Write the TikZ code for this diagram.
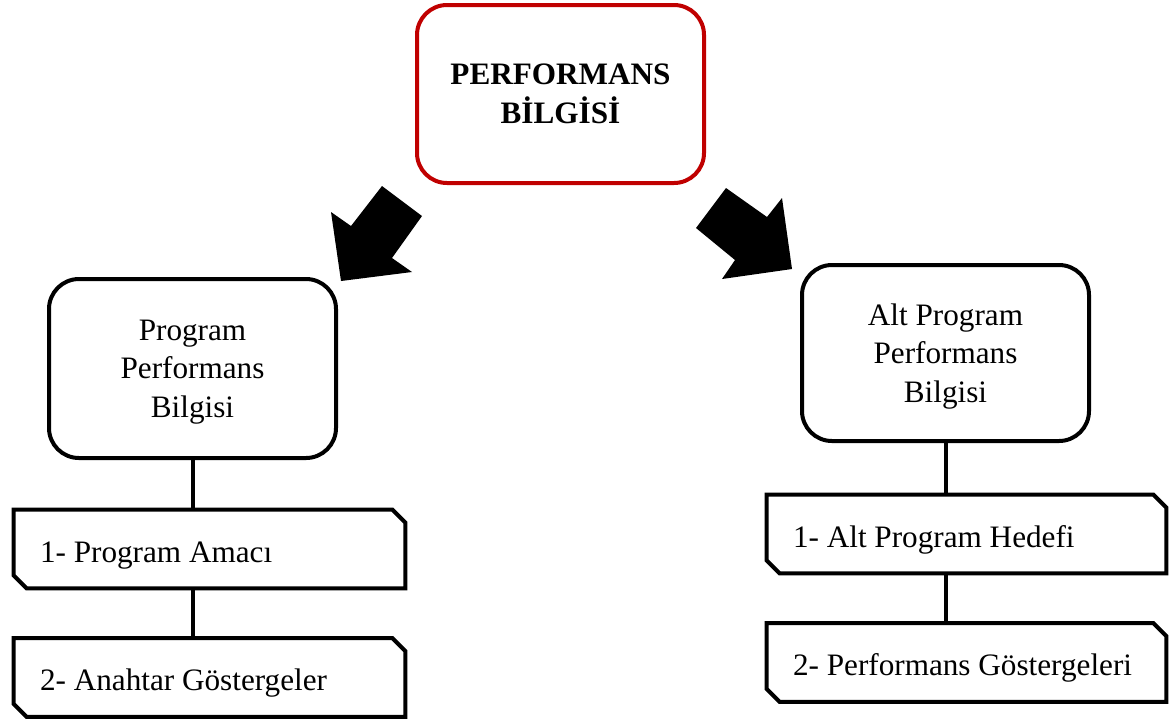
\documentclass[tikz,border=0pt]{standalone}
\usepackage{fontspec}
\setmainfont{Liberation Serif}
\usepackage{xcolor}
\usetikzlibrary{positioning}
\definecolor{boxred}{RGB}{192,0,0}

\begin{document}
\begin{tikzpicture}[x=0.5pt, y=-0.5pt,
        mainbox/.style={rectangle, rounded corners=15pt, draw=boxred, line width=2pt, minimum width=143.5pt, minimum height=89pt, align=center, font=\fontsize{15.6}{19.5}\selectfont\bfseries},
        subbox/.style={rectangle, rounded corners=15pt, draw=black, line width=2pt, minimum width=143.5pt, minimum height=89pt, align=center, font=\fontsize{15.6}{19.25}\selectfont},
        item/.style={rectangle, inner xsep=13pt, minimum height=39pt, text height=13pt, text depth=0pt, align=flush left, font=\fontsize{15.6}{19.25}\selectfont},
        itemline/.style={draw=black, line width=2pt, line join=miter},
        link/.style={draw=black, line width=2pt},
        bigarrow/.style={fill=black}
    ]
        \useasboundingbox (0,0) rectangle (1171,719);

        % Top box
        \node[mainbox, text depth=-3.5pt] (perf) at (560.5,94) {PERFORMANS\\BİLGİSİ};

        % Second level
        \node[subbox, minimum height=89.5pt, text depth=-1pt] (prog) at (192.5,368.5) {Program\\Performans\\Bilgisi};
        \node[subbox, minimum height=88pt, text depth=-2.6pt] (alt) at (945.5,353) {Alt Program\\Performans\\Bilgisi};

        % Block arrows
        \fill[bigarrow] (351,226) -- (382,186) -- (422,216) -- (392,258) -- (412,272) -- (341,281) -- (331,212) -- cycle;
        \fill[bigarrow] (696,228) -- (726,188) -- (767,217) -- (782,198) -- (792,269) -- (722,279) -- (735,260) -- cycle;

        % Items
        \node[item, text width=169.5pt] (amac) at (209.5,549) {1- Program Amacı};
        \node[item, text width=169.5pt] (anahtar) at (209.5,677.5) {2- Anahtar Göstergeler};
        \node[item, text width=173.5pt] (hedef) at (966.5,534) {1- Alt Program Hedefi};
        \node[item, text width=173.5pt] (gosterge) at (966.5,662.5) {2- Performans Göstergeleri};

        \foreach \n in {amac,anahtar,hedef,gosterge}
            \draw[itemline] ([xshift=-6.5pt]\n.north east) -- (\n.north west) -- ([yshift=6.5pt]\n.south west)
                -- ([xshift=6.5pt]\n.south west) -- (\n.south east) -- ([yshift=-6.5pt]\n.north east) -- cycle;

        % Connections
        \draw[link] (prog.south) -- (prog.south |- amac.north);
        \draw[link] (prog.south |- amac.south) -- (prog.south |- anahtar.north);
        \draw[link] (alt.south) -- (alt.south |- hedef.north);
        \draw[link] (alt.south |- hedef.south) -- (alt.south |- gosterge.north);
    \end{tikzpicture}
\end{document}
